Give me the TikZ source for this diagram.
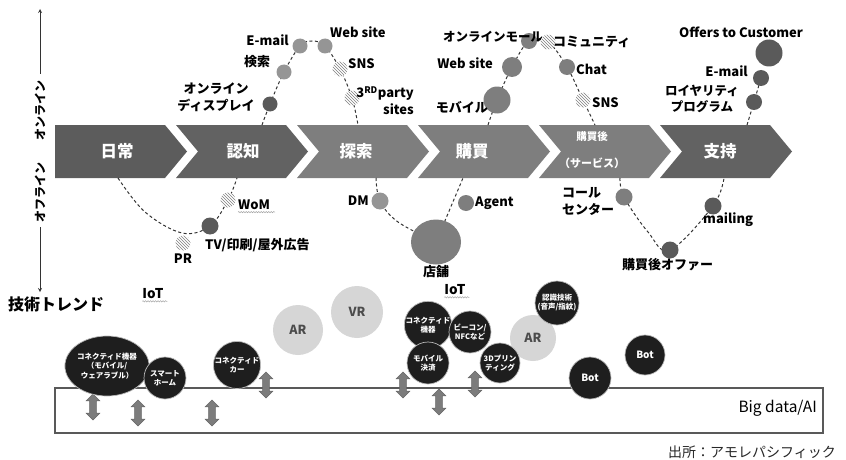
\documentclass[tikz,border=0pt]{standalone}
\usepackage{fontspec}
\setmainfont{Noto Sans CJK JP}
\usetikzlibrary{patterns,shapes.geometric,shapes.arrows,decorations.pathmorphing}
\definecolor{chevA}{HTML}{5C5C5C}
\definecolor{chevB}{HTML}{7E7E7E}
\definecolor{chevC}{HTML}{626262}
\definecolor{cmid}{HTML}{959595}
\definecolor{cdark}{HTML}{5A5A5A}
\definecolor{cmed}{HTML}{7E7E7E}
\definecolor{cblack}{HTML}{1E1E1E}
\definecolor{clight}{HTML}{D6D6D6}
\definecolor{arrowg}{HTML}{7C7C7C}
\tikzset{
  dot/.style={circle,inner sep=0pt,minimum size=#1},
  gmid/.style={dot=#1,fill=cmid},
  gmed/.style={dot=#1,fill=cmed},
  gdark/.style={dot=#1,fill=cdark},
  hatch/.style={dot=#1,preaction={fill=white},pattern=north west lines,pattern color=gray},
  dashline/.style={dashed,dash pattern=on 3pt off 2.5pt,line width=1pt,black!80},
  lbl/.style={font=\bfseries\fontsize{13}{15}\selectfont,inner sep=0pt},
  jlbl/.style={font=\bfseries\fontsize{13}{17}\selectfont,inner sep=0pt},
  chevtext/.style={font=\bfseries\fontsize{16.5}{18}\selectfont,text=white,inner sep=0pt},
  blk/.style={circle,inner sep=0pt,minimum size=#1,fill=cblack,draw=gray!55,line width=0.7pt,text=white,align=center,font=\bfseries\fontsize{7.5}{9}\selectfont},
  lgt/.style={circle,inner sep=0pt,minimum size=#1,fill=clight,text=black!70,font=\bfseries\fontsize{12.5}{14}\selectfont},
  dbl/.style={double arrow,shape border rotate=90,fill=arrowg,draw=gray!80!black,line width=0.4pt,inner sep=3.2pt,double arrow head extend=3.5pt,minimum height=26pt},
  wavy/.style={decorate,decoration={snake,amplitude=0.7pt,segment length=2.5pt},gray!70,line width=0.5pt},
}
\begin{document}
\begin{tikzpicture}[x=1pt,y=-1pt]
\useasboundingbox (0,0) rectangle (846,460);
% left axis
\node[font=\bfseries\fontsize{12}{13}\selectfont,rotate=90,inner sep=0pt] (on) at (40,110) {オンライン};
\node[font=\bfseries\fontsize{12}{13}\selectfont,rotate=90,inner sep=0pt] (off) at (40,192) {オフライン};
\coordinate (axtop) at (40,9);
\coordinate (axbot) at (40,292);
\draw[-stealth,line width=0.8pt,black!80] (40,74) -- (axtop);
\draw[-stealth,line width=0.8pt,black!80] (40,227) -- (axbot);
\node[font=\bfseries\fontsize{16}{18}\selectfont,anchor=west,inner sep=0pt] (trend) at (8,304) {技術トレンド};
% chevrons
\foreach \i/\c in {0/chevA,1/chevC,2/chevB,3/chevB,4/chevB,5/chevC}{
  \pgfmathsetmacro{\xo}{55+121*\i}
  \ifnum\i=0
    \fill[\c] (\xo,125) -- ({\xo+110},125) -- ({\xo+132},151.5) -- ({\xo+110},178) -- (\xo,178) -- cycle;
  \else
    \fill[\c] (\xo,125) -- ({\xo+110},125) -- ({\xo+132},151.5) -- ({\xo+110},178) -- (\xo,178) -- ({\xo+22},151.5) -- cycle;
  \fi
}
\node[chevtext] (c1) at (117,151.5) {日常};
\node[chevtext] (c2) at (243,151.5) {認知};
\node[chevtext] (c3) at (356,151.5) {探索};
\node[chevtext] (c4) at (472,151.5) {購買};
\node[chevtext,font=\bfseries\fontsize{10.5}{12}\selectfont] (c5a) at (592,137) {購買後};
\node[chevtext,font=\bfseries\fontsize{11}{12}\selectfont] (c5b) at (592,163) {（サービス）};
\node[chevtext] (c6) at (720,151.5) {支持};
% online curve 1
\coordinate (o1s) at (262,125);
\coordinate (o1e) at (358,125);
\coordinate (disp) at (270,104);
\coordinate (kens) at (284,72);
\coordinate (mail1) at (300,46);
\coordinate (web1) at (325,46);
\coordinate (sns1) at (340,69);
\coordinate (party) at (352,98);
\draw[dashline] plot[smooth,tension=0.6] coordinates {(o1s) (disp) (kens) (mail1) (312,41) (web1) (sns1) (party) (o1e)};
\node[gdark=15] (ndisp) at (disp) {};
\node[gmid=15] (nkens) at (kens) {};
\node[gmid=15] (nmail1) at (mail1) {};
\node[gmid=15] (nweb1) at (web1) {};
\node[hatch=15] (nsns1) at (sns1) {};
\node[hatch=15] (nparty) at (party) {};
\node[lbl,anchor=east] (lmail1) at (289,40) {E-mail};
\node[jlbl] (lkens) at (257,62) {検索};
\node[jlbl,align=center] (ldisp) at (216,97) {オンライン\\ディスプレイ};
\node[lbl,anchor=west] (lweb1) at (330,32) {Web site};
\node[lbl,anchor=west] (lsns1) at (348,64) {SNS};
\node[lbl,align=right,anchor=east,font=\bfseries\fontsize{13}{17}\selectfont] (lparty) at (414,101) {3\textsuperscript{RD}party\\sites};
% online curve 2
\coordinate (o2s) at (488,125);
\coordinate (o2e) at (595,125);
\coordinate (mob) at (497,100);
\coordinate (web2) at (512,67);
\coordinate (mall) at (529,41);
\coordinate (comm) at (548,42);
\coordinate (chat) at (567,67);
\coordinate (sns2) at (583,100);
\draw[dashline] plot[smooth,tension=0.6] coordinates {(o2s) (mob) (web2) (mall) (comm) (chat) (sns2) (o2e)};
\node[gmed=27] (nmob) at (mob) {};
\node[gmed=20] (nweb2) at (web2) {};
\node[gmed=16] (nmall) at (mall) {};
\node[lbl,anchor=west,font=\bfseries\fontsize{12.5}{14}\selectfont] (lmall) at (443,37) {オンラインモール};
\node[hatch=15] (ncomm) at (comm) {};
\node[gmed=16] (nchat) at (chat) {};
\node[hatch=15] (nsns2) at (sns2) {};
\node[lbl,anchor=east] (lweb2) at (493,63) {Web site};
\node[jlbl,anchor=east] (lmob) at (488,107) {モバイル};
\node[jlbl,anchor=west] (lcomm) at (553,42) {コミュニティ};
\node[lbl,anchor=west] (lchat) at (576,69) {Chat};
\node[lbl,anchor=west] (lsns2) at (592,103) {SNS};
% online curve 3
\coordinate (o3s) at (747,125);
\coordinate (loy) at (754,102);
\coordinate (mail3) at (761,78);
\coordinate (offer) at (769,53);
\draw[dashline] (o3s) -- (loy) -- (mail3);
\node[gdark=16] (nloy) at (loy) {};
\node[gdark=16] (nmail3) at (mail3) {};
\node[gdark=27] (noffer) at (offer) {};
\node[lbl] (loffer) at (741,32) {Offers to Customer};
\node[lbl,anchor=east] (lmail3) at (748,71) {E-mail};
\node[jlbl,align=center,font=\bfseries\fontsize{12.5}{16}\selectfont] (lloy) at (702,99) {ロイヤリティ\\プログラム};
% offline curve 1
\coordinate (f1s) at (118,178);
\coordinate (f1e) at (237,178);
\coordinate (tv) at (210,226);
\coordinate (wom) at (228,200);
\coordinate (pr) at (183,243);
\draw[dashline] plot[smooth,tension=0.6] coordinates {(f1s) (145,212) (182,233) (tv) (wom) (f1e)};
\node[gdark=17] (ntv) at (tv) {};
\node[hatch=15] (nwom) at (wom) {};
\node[hatch=15] (npr) at (pr) {};
\node[lbl,anchor=west] (lwom) at (238,205) {WoM};
\draw[wavy] (lwom.south west) ++(0,2) -- ++(37,0);
\node[jlbl,anchor=west] (ltv) at (205,245) {TV/印刷/屋外広告};
\node[lbl] (lpr) at (183,259) {PR};
% offline curve 2
\coordinate (f2s) at (376,178);
\coordinate (f2e) at (463,178);
\coordinate (dm) at (380,201);
\coordinate (tenpo) at (436,242);
\draw[dashline] plot[smooth,tension=0.6] coordinates {(f2s) (dm) (398,222) (tenpo)};
\draw[dashline] (tenpo) -- (f2e);
\node[gmid=17] (ndm) at (dm) {};
\node[ellipse,inner sep=0pt,minimum width=50,minimum height=45,fill=cmed] (ntenpo) at (tenpo) {};
\node[gmed=16] (nagent) at (466,203) {};
\node[lbl,anchor=east] (ldm) at (369,201) {DM};
\node[lbl,anchor=west] (lagent) at (475,203) {Agent};
\node[jlbl] (ltenpo) at (436,272) {店舗};
% offline curve 3
\coordinate (f3s) at (620,178);
\coordinate (f3e) at (724,178);
\coordinate (call) at (624,197);
\coordinate (aoffer) at (670,250);
\coordinate (mailing) at (713,206);
\draw[dashline] plot[smooth,tension=0.6] coordinates {(f3s) (call) (648,232) (aoffer) (mailing) (f3e)};
\node[gmed=17] (ncall) at (call) {};
\node[gdark=17] (naoffer) at (aoffer) {};
\node[gdark=17] (nmailing) at (mailing) {};
\node[jlbl,anchor=west,align=left,font=\bfseries\fontsize{13}{17}\selectfont] (lcall) at (562,201) {コール\\センター};
\node[lbl,anchor=west] (lmailing) at (703,220) {mailing};
\node[jlbl,anchor=west] (laoffer) at (622,265) {購買後オファー};
% bottom band
\draw[line width=1.2pt,black!65] (55,388) rectangle (823,433);
\node[anchor=east,inner sep=0pt,font=\fontsize{15.5}{18}\selectfont] (bigdata) at (817,408) {Big data/AI};
\node[anchor=east,inner sep=0pt,font=\fontsize{14}{16}\selectfont,text=black!85] (src) at (836,452) {出所：アモレパシフィック};
% IoT labels
\node[lbl,font=\bfseries\fontsize{13.5}{15}\selectfont] (iot1) at (153,294) {IoT};
\draw[wavy] (iot1.south west) ++(0,2) -- ++(25,0);
\node[lbl,font=\bfseries\fontsize{13.5}{15}\selectfont] (iot2) at (455,290) {IoT};
\draw[wavy] (iot2.south west) ++(0,2) -- ++(25,0);
% double arrows
\node[dbl] (a1) at (93,407) {};
\node[dbl] (a2) at (138,413) {};
\node[dbl] (a3) at (212,413) {};
\node[dbl] (a4) at (266,385) {};
\node[dbl] (a5) at (403,385) {};
\node[dbl] (a6) at (439,402) {};
\node[dbl] (a7) at (475,384) {};
% tech circles
\node[lgt=50] (ar1) at (298,330) {AR};
\node[lgt=52] (vr) at (357,312) {VR};
\node[lgt=46] (ar2) at (533,338) {AR};
\node[ellipse,inner sep=0pt,minimum width=66,minimum height=60,fill=cblack,draw=gray!55,line width=0.7pt,text=white,align=center,font=\bfseries\fontsize{7.5}{9.5}\selectfont] (iot1a) at (107,366) {コネクティド機器\\（モバイル/\\ウェアラブル）};
\node[blk=42] (home) at (165,378) {スマート\\ホーム};
\node[blk=47] (car) at (237,365) {コネクティド\\カー};
\node[blk=42] (dev2) at (428,325) {コネクティド\\機器};
\node[blk=42] (beacon) at (470,332) {ビーコン/\\NFCなど};
\node[blk=42] (pay) at (428,363) {モバイル\\決済};
\node[blk=40] (print) at (500,363) {3Dプリン\\ティング};
\node[blk=44] (recog) at (557,303) {認識技術\\(音声/指紋)};
\node[blk=42,font=\bfseries\fontsize{10}{12}\selectfont] (bot1) at (590,378) {Bot};
\node[blk=40,font=\bfseries\fontsize{10}{12}\selectfont] (bot2) at (645,355) {Bot};
\end{tikzpicture}
\end{document}
